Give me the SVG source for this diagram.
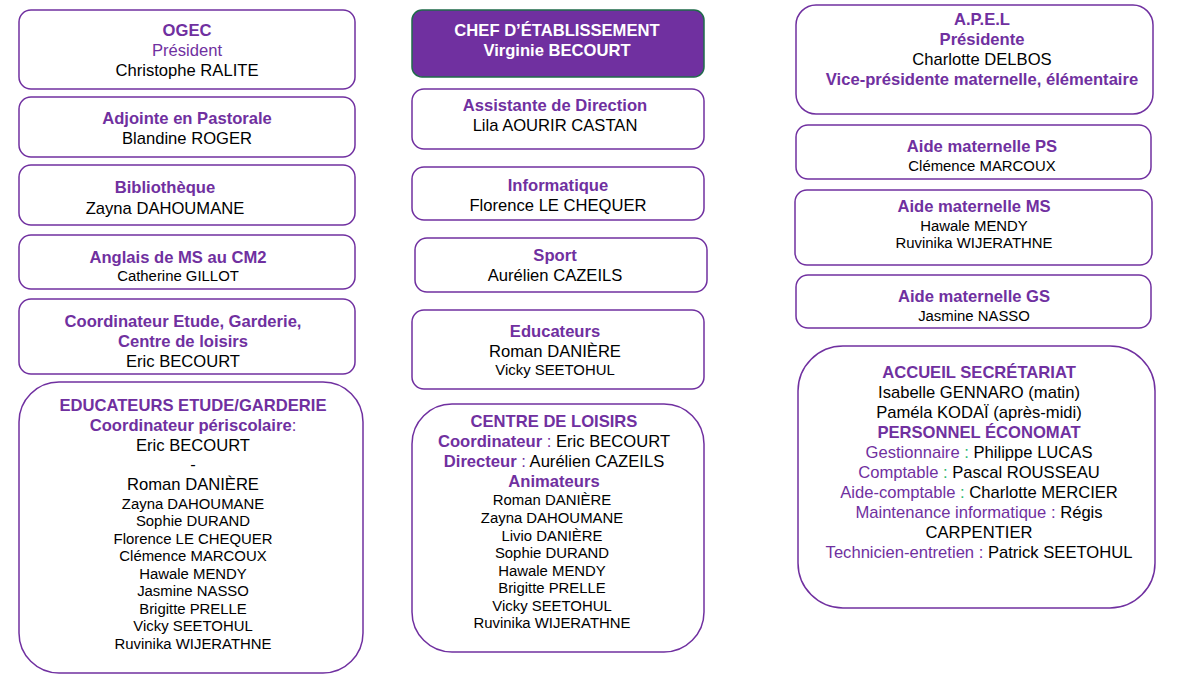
<svg xmlns="http://www.w3.org/2000/svg" width="1200" height="675" viewBox="0 0 1200 675">
<style>
.box{fill:#fff;stroke:#7030A0;stroke-width:1.5}
.chef{fill:#7030A0;stroke:#1f6b4a;stroke-width:1.5}
text{font-family:"Liberation Sans",Arial,sans-serif;text-anchor:middle}
.t{fill:#7030A0;font-weight:bold;font-size:16.6px}
.p{fill:#7030A0;font-size:16.6px}
.n{fill:#000;font-size:16.6px}
.s{fill:#000;font-size:14.9px}
.w{fill:#fff;font-weight:bold;font-size:16.6px}
.g{fill:#2eb872}
</style>
<g id="connectors"></g>
<g id="ogec"><rect class="box" x="19" y="10" width="336" height="79" rx="12"/>
<text class="t" x="187" y="36">OGEC</text><text class="p" x="187" y="56">Président</text><text class="n" x="187" y="76">Christophe RALITE</text></g>
<g id="pastorale"><rect class="box" x="19" y="97" width="336" height="60" rx="12"/>
<text class="t" x="187" y="124">Adjointe en Pastorale</text><text class="n" x="187" y="144">Blandine ROGER</text></g>
<g id="bibliotheque"><rect class="box" x="19" y="165" width="336" height="60" rx="12"/>
<text class="t" x="165" y="193">Bibliothèque</text><text class="n" x="165" y="214">Zayna DAHOUMANE</text></g>
<g id="anglais"><rect class="box" x="19" y="235" width="336" height="54" rx="12"/>
<text class="t" x="178" y="263">Anglais de MS au CM2</text><text class="s" x="178" y="281">Catherine GILLOT</text></g>
<g id="coordinateur"><rect class="box" x="19" y="299" width="336" height="75" rx="12"/>
<text class="t" x="183" y="327">Coordinateur Etude, Garderie,</text><text class="t" x="183" y="347">Centre de loisirs</text><text class="n" x="183" y="367">Eric BECOURT</text></g>
<g id="educateurs-etude"><rect class="box" x="19" y="382" width="344" height="291" rx="40"/>
<text class="t" x="193" y="411">EDUCATEURS ETUDE/GARDERIE</text>
<text class="t" x="193" y="431">Coordinateur périscolaire<tspan font-weight="normal">:</tspan></text>
<text class="n" x="193" y="451">Eric BECOURT</text><text class="n" x="193" y="470">-</text><text class="n" x="193" y="490">Roman DANIÈRE</text>
<text class="s" x="193" y="509">Zayna DAHOUMANE</text><text class="s" x="193" y="526">Sophie DURAND</text><text class="s" x="193" y="544">Florence LE CHEQUER</text><text class="s" x="193" y="561">Clémence MARCOUX</text><text class="s" x="193" y="579">Hawale MENDY</text><text class="s" x="193" y="596">Jasmine NASSO</text><text class="s" x="193" y="614">Brigitte PRELLE</text><text class="s" x="193" y="631">Vicky SEETOHUL</text><text class="s" x="193" y="649">Ruvinika WIJERATHNE</text></g>
<g id="chef"><rect class="chef" x="412" y="10" width="292" height="67" rx="10"/>
<text class="w" x="557" y="36">CHEF D’ÉTABLISSEMENT</text><text class="w" x="557" y="56">Virginie BECOURT</text></g>
<g id="assistante"><rect class="box" x="412" y="89" width="292" height="60" rx="12"/>
<text class="t" x="555" y="111">Assistante de Direction</text><text class="n" x="555" y="131">Lila AOURIR CASTAN</text></g>
<g id="informatique"><rect class="box" x="412" y="167" width="292" height="53" rx="12"/>
<text class="t" x="558" y="191">Informatique</text><text class="n" x="558" y="211">Florence LE CHEQUER</text></g>
<g id="sport"><rect class="box" x="415" y="238" width="292" height="54" rx="12"/>
<text class="t" x="555" y="261">Sport</text><text class="n" x="555" y="281">Aurélien CAZEILS</text></g>
<g id="educateurs"><rect class="box" x="412" y="310" width="292" height="79" rx="12"/>
<text class="t" x="555" y="337">Educateurs</text><text class="n" x="555" y="357">Roman DANIÈRE</text><text class="s" x="555" y="375">Vicky SEETOHUL</text></g>
<g id="centre-loisirs"><rect class="box" x="412" y="404" width="292" height="248" rx="40"/>
<text class="t" x="554" y="427">CENTRE DE LOISIRS</text>
<text class="t" x="554" y="447">Coordinateur <tspan font-weight="normal">: </tspan><tspan fill="#000" font-weight="normal">Eric BECOURT</tspan></text>
<text class="t" x="554" y="467">Directeur <tspan font-weight="normal">: </tspan><tspan fill="#000" font-weight="normal">Aurélien CAZEILS</tspan></text>
<text class="t" x="554" y="487">Animateurs</text>
<text class="s" x="552" y="505">Roman DANIÈRE</text><text class="s" x="552" y="523">Zayna DAHOUMANE</text><text class="s" x="552" y="541">Livio DANIÈRE</text><text class="s" x="552" y="558">Sophie DURAND</text><text class="s" x="552" y="576">Hawale MENDY</text><text class="s" x="552" y="593">Brigitte PRELLE</text><text class="s" x="552" y="611">Vicky SEETOHUL</text><text class="s" x="552" y="628">Ruvinika WIJERATHNE</text></g>
<g id="apel"><rect class="box" x="796" y="5" width="357" height="109" rx="20"/>
<text class="t" x="982" y="25">A.P.E.L</text><text class="t" x="982" y="45">Présidente</text><text class="n" x="982" y="65">Charlotte DELBOS</text><text class="t" x="982" y="85">Vice-présidente maternelle, élémentaire</text></g>
<g id="aide-ps"><rect class="box" x="796" y="125" width="355" height="54" rx="12"/>
<text class="t" x="982" y="152">Aide maternelle PS</text><text class="s" x="982" y="171">Clémence MARCOUX</text></g>
<g id="aide-ms"><rect class="box" x="795" y="190" width="357" height="75" rx="12"/>
<text class="t" x="974" y="212">Aide maternelle MS</text><text class="s" x="974" y="231">Hawale MENDY</text><text class="s" x="974" y="248">Ruvinika WIJERATHNE</text></g>
<g id="aide-gs"><rect class="box" x="796" y="275" width="355" height="53" rx="12"/>
<text class="t" x="974" y="302">Aide maternelle GS</text><text class="s" x="974" y="321">Jasmine NASSO</text></g>
<g id="accueil"><rect class="box" x="798" y="346" width="357" height="262" rx="45"/>
<text class="t" x="979" y="378">ACCUEIL SECRÉTARIAT</text>
<text class="n" x="979" y="398">Isabelle GENNARO (matin)</text>
<text class="n" x="979" y="418">Paméla KODAÏ (après-midi)</text>
<text class="t" x="979" y="438">PERSONNEL ÉCONOMAT</text>
<text class="p" x="979" y="458">Gestionnaire <tspan class="g">:</tspan> <tspan fill="#000">Philippe LUCAS</tspan></text>
<text class="p" x="979" y="478">Comptable <tspan class="g">:</tspan> <tspan fill="#000">Pascal ROUSSEAU</tspan></text>
<text class="p" x="979" y="498">Aide-comptable <tspan class="g">:</tspan> <tspan fill="#000">Charlotte MERCIER</tspan></text>
<text class="p" x="979" y="518">Maintenance informatique : <tspan fill="#000">Régis</tspan></text>
<text class="n" x="979" y="538">CARPENTIER</text>
<text class="p" x="979" y="558">Technicien-entretien : <tspan fill="#000">Patrick SEETOHUL</tspan></text></g>
</svg>
